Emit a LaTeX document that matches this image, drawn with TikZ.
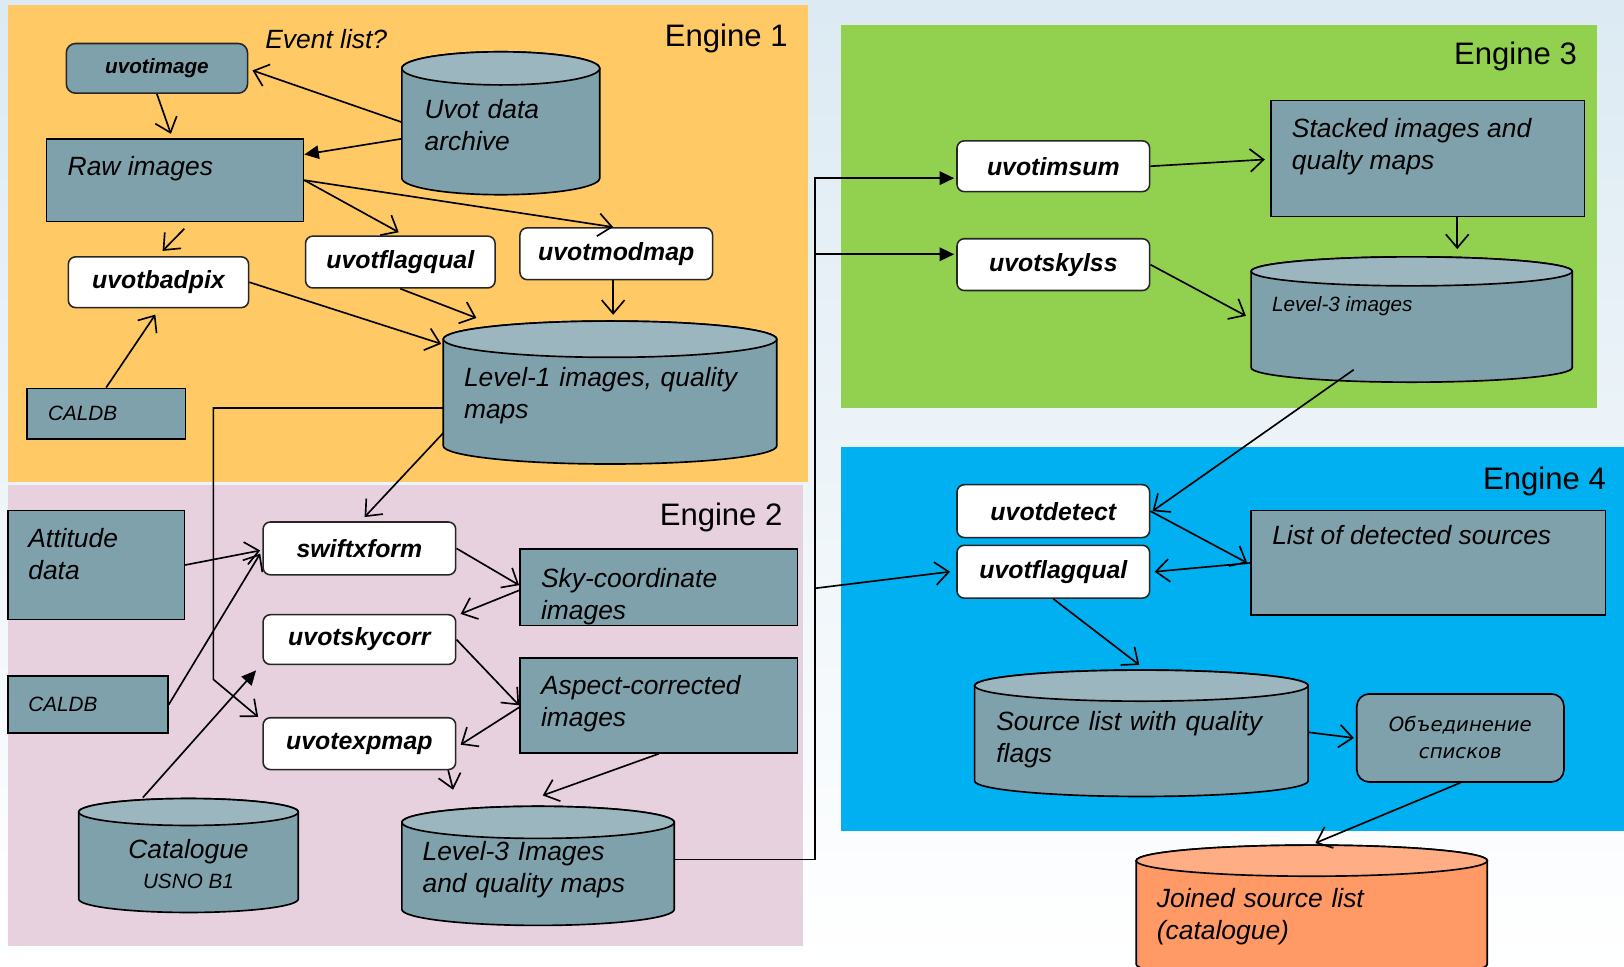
\documentclass[tikz,border=0pt]{standalone}
\usepackage{fontspec}
\setmainfont{Liberation Sans}
\newfontfamily\rufont{DejaVu Sans}
\usepackage{tikz}
\usetikzlibrary{shapes.geometric, arrows.meta, positioning, calc}

\definecolor{boxfill}{HTML}{7FA1AB}
\definecolor{boxtop}{HTML}{9BB6BE}
\definecolor{enga}{HTML}{FFC965}
\definecolor{engb}{HTML}{E8D1DF}
\definecolor{engc}{HTML}{92D050}
\definecolor{engd}{HTML}{00B0F0}
\definecolor{joinbody}{HTML}{FF9966}
\definecolor{jointop}{HTML}{FFAD85}
\definecolor{bgtop}{HTML}{DCEAF3}

\newcommand{\bodyfont}{\fontsize{25.5}{31}\selectfont\itshape}
\newcommand{\smallfont}{\fontsize{20}{24}\selectfont\itshape}

\tikzset{
    drum ry/.store in=\drumry, drum ry=16,
    drum body/.store in=\drumbody, drum body=boxfill,
    drum top/.store in=\drumtop, drum top=boxtop
}

\begin{document}
\begin{tikzpicture}[
        x=1pt, y=-1pt,
        databox/.style={
            rectangle,
            draw=black,
            line width=1.6pt,
            fill=boxfill,
            inner sep=0pt
        },
        tool/.style={
            rectangle,
            rounded corners=7pt,
            draw=black!85,
            line width=1.5pt,
            fill=white,
            minimum width=186,
            minimum height=50,
            inner sep=0pt,
            font=\fontsize{24}{28}\selectfont\bfseries\itshape
        },
        drum/.style={
            rectangle,
            inner sep=0pt,
            path picture={
                \draw[line width=1.6pt, fill=\drumbody]
                    let \p1=(path picture bounding box.north west),
                        \p2=(path picture bounding box.south east),
                        \n1={(\x2-\x1)/2-1pt}
                    in (\x1+1pt,\y1-1pt-\drumry pt) -- (\x1+1pt,\y2+1pt+\drumry pt)
                       arc[start angle=180, end angle=360, x radius=\n1, y radius=\drumry pt]
                       -- (\x2-1pt,\y1-1pt-\drumry pt)
                       arc[start angle=0, end angle=180, x radius=\n1, y radius=\drumry pt] -- cycle;
                \draw[line width=1.6pt, fill=\drumtop]
                    let \p1=(path picture bounding box.north west),
                        \p2=(path picture bounding box.south east),
                        \n1={(\x2-\x1)/2-1pt}
                    in (\x1/2+\x2/2,\y1-1pt-\drumry pt) ellipse[x radius=\n1, y radius=\drumry pt];
            }
        },
        intext/.style={anchor=north west, inner sep=0pt, align=left, font=\bodyfont},
        title/.style={anchor=east, font=\fontsize{30}{36}\selectfont},
        arrow/.style={-{Straight Barb[length=13pt,width=22pt]}, line width=1.6pt},
        farrow/.style={-{Triangle[length=14pt,width=13pt]}, line width=1.6pt}
    ]
        \useasboundingbox (0,0) rectangle (1568,933);
        \fill[top color=bgtop, bottom color=white] (0,0) rectangle (1568,933);

        % Engine panels
        \fill[enga] (8,5) rectangle (780,465);
        \fill[engb] (8,468) rectangle (775,913);
        \fill[engc] (812,24) rectangle (1542,394);
        \fill[engd] (812,432) rectangle (1568,802);
        \node[title] (ttla) at (764,37) {Engine 1};
        \node[title] (ttlb) at (759,500) {Engine 2};
        \node[title] (ttlc) at (1526,55) {Engine 3};
        \node[title] (ttld) at (1554,465) {Engine 4};

        % Nodes: engine 1
        \node[tool, fill=boxfill, rounded corners=9pt, minimum width=175, minimum height=48,
              font=\fontsize{20}{24}\selectfont\bfseries\itshape] (img) at (151.5,66) {uvotimage};
        \node[font=\bodyfont] (evlist) at (315,38) {Event list?};
        \node[drum, drum ry=16, minimum width=193, minimum height=140] (archive) at (483.5,119) {};
        \node[intext, anchor=center, text width=147] (archivetxt) at ([yshift=-2pt]archive.center) {Uvot data\\archive};
        \node[databox, minimum width=248, minimum height=80,
              label={[intext, xshift=21pt, yshift=-18pt]north west:Raw images}] (raw) at (169,174) {};
        \node[tool, minimum width=174, minimum height=49] (badpix) at (153,272.5) {uvotbadpix};
        \node[tool, minimum width=183] (flagq) at (386.5,253) {uvotflagqual};
        \node[tool] (modmap) at (595,245) {uvotmodmap};
        \node[drum, drum ry=17.5, minimum width=324, minimum height=140] (lvla) at (589,379) {};
        \node[intext, anchor=center, text width=282] (lvlatxt) at ([yshift=-3pt]lvla.center) {Level-1 images, quality\\maps};
        \node[databox, minimum width=153, minimum height=49,
              label={[intext, font=\smallfont, anchor=west, xshift=21pt]west:CALDB}] (caldba) at (102.5,399.5) {};

        % Nodes: engine 2
        \node[databox, minimum width=170, minimum height=105,
              label={[intext, xshift=20pt, yshift=-18pt]north west:Attitude\\data}] (att) at (93,545.5) {};
        \node[tool, minimum height=51] (swift) at (347,529.5) {swiftxform};
        \node[tool, minimum height=48, below=37pt of swift] (skycorr) {uvotskycorr};
        \node[tool, below=50pt of skycorr] (expmap) {uvotexpmap};
        \node[databox, minimum width=268, minimum height=74,
              label={[intext, xshift=21pt, yshift=-19pt]north west:Sky-coordinate\\images}] (sky) at (636,567) {};
        \node[databox, minimum width=268, minimum height=92,
              label={[intext, xshift=21pt, yshift=-18pt]north west:Aspect-corrected\\images}] (aspect) at (636,681) {};
        \node[databox, minimum width=154, minimum height=55,
              label={[intext, font=\smallfont, anchor=west, xshift=20pt]west:CALDB}] (caldbb) at (85,680.5) {};
        \node[drum, drum ry=13, minimum width=214, minimum height=112] (cat) at (182,826) {};
        \node[intext, anchor=center, align=center] (cattxt) at ([yshift=-8pt]cat.center) {Catalogue\\[-2pt]{\smallfont USNO B1}};
        \node[drum, drum ry=15.5, minimum width=265, minimum height=117] (lvlc) at (519.5,836) {};
        \node[intext, anchor=center, text width=223] (lvlctxt) at ([yshift=-4pt]lvlc.center) {Level-3 Images\\and quality maps};

        % Nodes: engine 3
        \node[tool, minimum height=49] (imsum) at (1017,160.5) {uvotimsum};
        \node[tool, below=44pt of imsum] (skylss) {uvotskylss};
        \node[databox, minimum width=303, minimum height=112,
              label={[intext, xshift=21pt, yshift=-18pt]north west:Stacked images and\\qualty maps}] (stack) at (1378.5,153) {};
        \node[drum, drum ry=14, minimum width=312, minimum height=123] (lvlb) at (1363,308.5) {};
        \node[intext, anchor=west, font=\smallfont] (lvlbtxt) at ([shift={(-135,-12.5)}]lvlb.center) {Level-3 images};

        % Nodes: engine 4
        \node[tool, minimum height=51] (detect) at (1017,493.5) {uvotdetect};
        \node[tool, minimum height=51, below=6pt of detect] (flagqb) {uvotflagqual};
        \node[databox, minimum width=342, minimum height=101,
              label={[intext, xshift=21pt, yshift=-15pt]north west:List of detected sources}] (list) at (1379,543.5) {};
        \node[drum, drum ry=15, minimum width=324, minimum height=124] (src) at (1102,708) {};
        \node[intext, anchor=center, text width=280] (srctxt) at ([yshift=-6pt]src.center) {Source list with quality\\flags};
        \node[databox, rounded corners=12pt, minimum width=200, minimum height=85, align=center,
              font=\fontsize{19}{26}\selectfont\rufont\itshape] (merge) at (1410,712.5) {Объединение\\списков};
        \node[drum, drum ry=15, minimum width=341, minimum height=132,
              drum body=joinbody, drum top=jointop] (joined) at (1266.5,881) {};
        \node[intext, anchor=center, text width=299] (joinedtxt) at ([yshift=-4pt]joined.center) {Joined source list\\(catalogue)};

        % Edges: engine 1
        \draw[arrow] ([shift={(-95.5,-1)}]archive.center) -- ([shift={(4,2)}]img.east);
        \draw[farrow] ([shift={(-95.5,15)}]archive.center) -- ([shift={(0,16)}]raw.north east);
        \draw[arrow] (img.south) -- ([shift={(-4,-4)}]raw.north);
        \draw[arrow] ([shift={(9,6)}]raw.south) -- ([shift={(4,-5)}]badpix.north);
        \draw[arrow] (raw.east) -- ([shift={(-1.5,-3)}]flagq.north);
        \draw[arrow] (raw.east) -- ([shift={(-3,0)}]modmap.north);
        \draw[arrow] (badpix.east) -- ([shift={(-163,-47)}]lvla.center);
        \draw[arrow] (flagq.south) -- ([shift={(-129,-72)}]lvla.center);
        \draw[arrow] ([xshift=-3pt]modmap.south) -- ([shift={(3,-75)}]lvla.center);
        \draw[arrow] (caldba.north) -- ([shift={(-3,6)}]badpix.south);

        % Edges: engine 2
        \draw[arrow] ([shift={(-161,15)}]lvla.center) -- ++(-222,0) -- ++(0,262) -- ([shift={(-4,0)}]expmap.north west);
        \draw[arrow] ([shift={(-161,39)}]lvla.center) -- ([shift={(5,-4)}]swift.north);
        \draw[arrow] (att.east) -- ([shift={(-2,2)}]swift.west);
        \draw[arrow] (caldbb.east) -- ([shift={(-2,5)}]swift.west);
        \draw[farrow] ([shift={(-44,-56)}]cat.center) -- ([shift={(-6,5)}]skycorr.south west);
        \draw[arrow] (swift.east) -- ([shift={(0,-2)}]sky.west);
        \draw[arrow] ([shift={(0,3)}]sky.west) -- ([shift={(4,0)}]skycorr.north east);
        \draw[arrow] (skycorr.east) -- (aspect.west);
        \draw[arrow] ([shift={(0,2)}]aspect.west) -- ([shift={(4,1)}]expmap.east);
        \draw[arrow] ([shift={(-8,0)}]expmap.south east) -- ([shift={(-82,-73.5)}]lvlc.center);
        \draw[arrow] (aspect.south) -- ([shift={(4.5,-68)}]lvlc.center);

        % Edges: to engines 3 and 4
        \coordinate (bus) at (787,172);
        \coordinate (tap) at (787,568);
        \coordinate (skyin) at ([shift={(-2,-10)}]skylss.west);
        \draw[farrow] ([shift={(131.5,-6)}]lvlc.center) -| (bus) -- ([shift={(-2,11.5)}]imsum.west);
        \draw[farrow] (bus |- skyin) -- (skyin);
        \draw[arrow] (tap) -- ([shift={(-6,0)}]flagqb.west);

        % Edges: engine 3
        \draw[arrow] (imsum.east) -- ([shift={(-5,1)}]stack.west);
        \draw[arrow] ([xshift=28.5pt]stack.south) -- ([shift={(44,-68)}]lvlb.center);
        \draw[arrow] (skylss.east) -- ([shift={(-160,-3.5)}]lvlb.center);
        \draw[arrow] ([shift={(-56,48.5)}]lvlb.center) -- ([shift={(2,0)}]detect.east);

        % Edges: engine 4
        \draw[arrow] (detect.east) -- ([shift={(-3,0)}]list.west);
        \draw[arrow] (list.west) -- ([shift={(4,0)}]flagqb.east);
        \draw[arrow] (flagqb.south) -- ([shift={(-2,-66)}]src.center);
        \draw[arrow] ([shift={(161,-1)}]src.center) -- ([shift={(-2,0)}]merge.west);
        \draw[arrow] (merge.south) -- ([shift={(3.5,-67)}]joined.center);
    \end{tikzpicture}
\end{document}
